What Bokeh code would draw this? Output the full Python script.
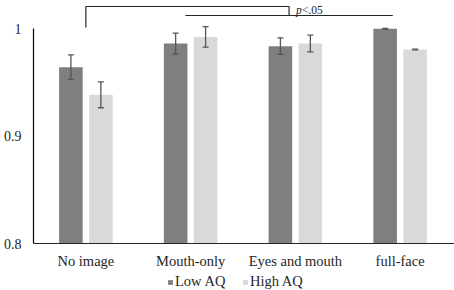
from bokeh.plotting import figure
from bokeh.layouts import column
from bokeh.models import (Range1d, FixedTicker, NumeralTickFormatter, Whisker,
                          ColumnDataSource, Legend, LegendItem, TeeHead, Label)
from bokeh.embed import file_html
from bokeh.resources import INLINE

categories = ["No image", "Mouth-only", "Eyes and mouth", "full-face"]
low_aq = [0.964, 0.986, 0.9836, 0.9997]
low_err = [0.0114, 0.0097, 0.0077, 0.0003]
high_aq = [0.9383, 0.9922, 0.986, 0.9805]
high_err = [0.012, 0.0095, 0.0078, 0.0003]
y_ticks = [0.8, 0.9, 1.0]
series_names = ["Low AQ", "High AQ"]
sig_text = ["p", "<.05"]

LOW_COLOR = "#7f7f7f"
HIGH_COLOR = "#d9d9d9"
ERR_COLOR = "#555555"
TEXT_COLOR = "#262626"
FONT = "Liberation Serif"

idx = list(range(len(categories)))
off = 0.143
src = ColumnDataSource(dict(
    x_low=[i - off for i in idx],
    x_high=[i + off for i in idx],
    low=low_aq,
    high=high_aq,
    low_top=[v + e for v, e in zip(low_aq, low_err)],
    low_bot=[v - e for v, e in zip(low_aq, low_err)],
    high_top=[v + e for v, e in zip(high_aq, high_err)],
    high_bot=[v - e for v, e in zip(high_aq, high_err)],
))

x_range = Range1d(-0.5, 3.519)
p = figure(width=454, height=273,
           x_range=x_range, y_range=Range1d(0.8, 1.02605),
           output_backend="svg", toolbar_location=None,
           min_border_left=32, min_border_right=0,
           min_border_top=0, min_border_bottom=30)

r_low = p.vbar(x="x_low", top="low", bottom=0.8, width=0.225, source=src,
               fill_color=LOW_COLOR, line_color=None)
r_high = p.vbar(x="x_high", top="high", bottom=0.8, width=0.225, source=src,
                fill_color=HIGH_COLOR, line_color=None)

for base, up, lo in [("x_low", "low_top", "low_bot"), ("x_high", "high_top", "high_bot")]:
    w = Whisker(source=src, base=base, upper=up, lower=lo,
                line_color=ERR_COLOR, line_width=1.3, level="annotation",
                upper_head=TeeHead(size=6, line_color=ERR_COLOR, line_width=1.3),
                lower_head=TeeHead(size=6, line_color=ERR_COLOR, line_width=1.3))
    p.add_layout(w)

# significance bracket: No image vs. the image conditions
sig_left = idx[0]
sig_span = (idx[1] - 0.05, idx[3] - 0.07)
sig_drop = (sig_span[0] + sig_span[1]) / 2
p.line(x=[sig_left, sig_left, sig_drop, sig_drop],
       y=[1.00093, 1.02047, 1.02047, 1.01209], line_color=TEXT_COLOR, line_width=1.2)
p.line(x=list(sig_span), y=[1.01209, 1.01209], line_color=TEXT_COLOR, line_width=1.2)
p.add_layout(Label(x=idx[2] + 0.005, y=1.0176, text=sig_text[0],
                   text_font=FONT, text_font_size="11.5px", text_font_style="italic",
                   text_color=TEXT_COLOR, text_baseline="alphabetic"))
p.add_layout(Label(x=idx[2] + 0.005, y=1.0176, x_offset=6, text=sig_text[1],
                   text_font=FONT, text_font_size="11.5px",
                   text_color=TEXT_COLOR, text_baseline="alphabetic"))

p.xgrid.visible = False
p.ygrid.visible = False
p.outline_line_color = None

p.xaxis.ticker = FixedTicker(ticks=idx)
p.xaxis.major_label_overrides = {i: c for i, c in zip(idx, categories)}
p.xaxis.major_tick_line_color = None
p.xaxis.minor_tick_line_color = None
p.xaxis.major_tick_out = 0
p.xaxis.major_tick_in = 0
p.xaxis.axis_label_standoff = 0
p.xaxis.axis_line_color = TEXT_COLOR
p.xaxis.axis_line_width = 1.2
p.xaxis.major_label_text_font = FONT
p.xaxis.major_label_text_font_size = "14.5px"
p.xaxis.major_label_text_color = TEXT_COLOR
p.xaxis.major_label_standoff = 9

p.yaxis.ticker = FixedTicker(ticks=y_ticks)
p.yaxis.formatter = NumeralTickFormatter(format="0.[0]")
p.yaxis.bounds = (0.8, 1.0)
p.yaxis.major_tick_line_color = None
p.yaxis.minor_tick_line_color = None
p.yaxis.major_tick_out = 0
p.yaxis.major_tick_in = 0
p.yaxis.axis_line_color = "black"
p.yaxis.axis_line_width = 1.2
p.yaxis.major_label_text_font = FONT
p.yaxis.major_label_text_font_size = "14px"
p.yaxis.major_label_text_color = TEXT_COLOR
p.yaxis.major_label_standoff = 12

# legend strip below the chart (its key renderers have zero width, so draw nothing)
pl = figure(width=454, height=17, x_range=x_range, y_range=Range1d(-100, -99),
            output_backend="svg", toolbar_location=None, min_border=0,
            x_axis_location=None, y_axis_location=None)
pl.xgrid.visible = False
pl.ygrid.visible = False
pl.outline_line_color = None
k_low = pl.vbar(x="x_low", top="low", bottom=0.8, width=0, source=src,
                fill_color=LOW_COLOR, line_color=None)
k_high = pl.vbar(x="x_high", top="high", bottom=0.8, width=0, source=src,
                 fill_color=HIGH_COLOR, line_color=None)
legend = Legend(items=[LegendItem(label=series_names[0], renderers=[k_low]),
                       LegendItem(label=series_names[1], renderers=[k_high])],
                orientation="horizontal", location=(134, 0),
                glyph_width=6, glyph_height=6, label_standoff=2, spacing=7,
                label_width=60, padding=0, margin=0, border_line_color=None,
                background_fill_alpha=0, label_height=17,
                label_text_font=FONT, label_text_font_size="14.5px",
                label_text_color=TEXT_COLOR)
pl.add_layout(legend)

layout = column(p, pl, spacing=0)
open("out.html", "w").write(file_html(layout, INLINE))
